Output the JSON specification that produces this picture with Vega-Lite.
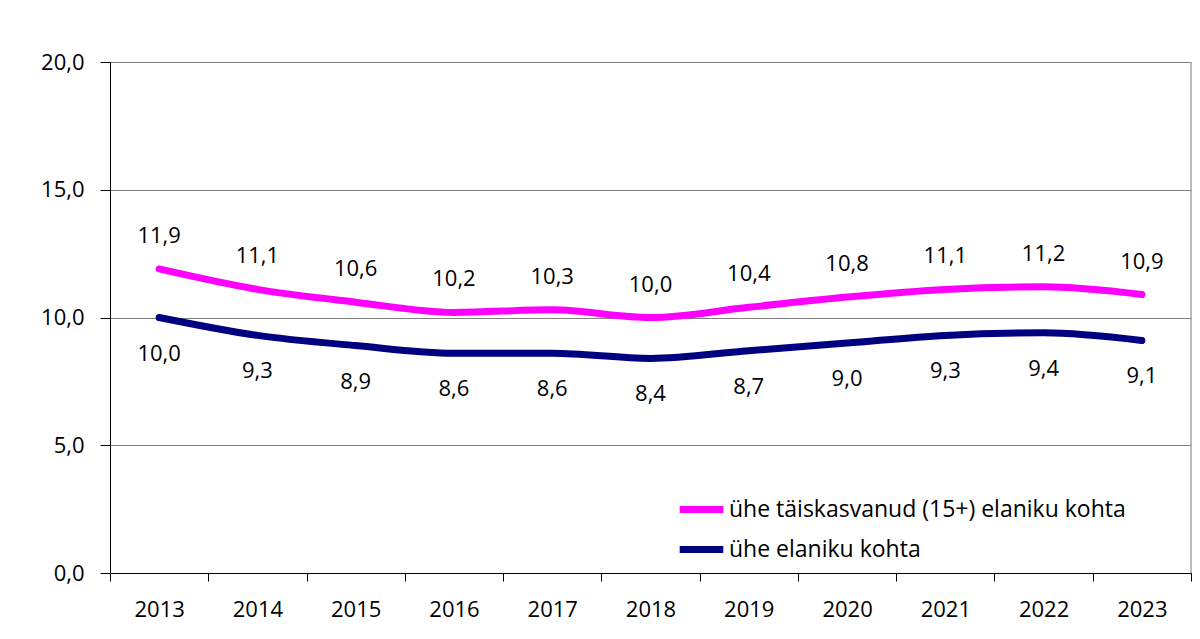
{
  "$schema": "https://vega.github.io/schema/vega-lite/v6.json",
  "width": 1081,
  "height": 511,
  "autosize": {"type": "none"},
  "padding": {"left": 110, "top": 62, "right": 9, "bottom": 66},
  "background": "white",
  "config": {
    "locale": {"number": {"decimal": ",", "thousands": " ", "grouping": [3], "currency": ["", " €"]}},
    "font": "Open Sans",
    "view": {"stroke": null}
  },
  "data": {
    "values": [
      {"year": "2013", "series": "ühe täiskasvanud (15+) elaniku kohta", "value": 11.9},
      {"year": "2014", "series": "ühe täiskasvanud (15+) elaniku kohta", "value": 11.1},
      {"year": "2015", "series": "ühe täiskasvanud (15+) elaniku kohta", "value": 10.6},
      {"year": "2016", "series": "ühe täiskasvanud (15+) elaniku kohta", "value": 10.2},
      {"year": "2017", "series": "ühe täiskasvanud (15+) elaniku kohta", "value": 10.3},
      {"year": "2018", "series": "ühe täiskasvanud (15+) elaniku kohta", "value": 10.0},
      {"year": "2019", "series": "ühe täiskasvanud (15+) elaniku kohta", "value": 10.4},
      {"year": "2020", "series": "ühe täiskasvanud (15+) elaniku kohta", "value": 10.8},
      {"year": "2021", "series": "ühe täiskasvanud (15+) elaniku kohta", "value": 11.1},
      {"year": "2022", "series": "ühe täiskasvanud (15+) elaniku kohta", "value": 11.2},
      {"year": "2023", "series": "ühe täiskasvanud (15+) elaniku kohta", "value": 10.9},
      {"year": "2013", "series": "ühe elaniku kohta", "value": 10.0},
      {"year": "2014", "series": "ühe elaniku kohta", "value": 9.3},
      {"year": "2015", "series": "ühe elaniku kohta", "value": 8.9},
      {"year": "2016", "series": "ühe elaniku kohta", "value": 8.6},
      {"year": "2017", "series": "ühe elaniku kohta", "value": 8.6},
      {"year": "2018", "series": "ühe elaniku kohta", "value": 8.4},
      {"year": "2019", "series": "ühe elaniku kohta", "value": 8.7},
      {"year": "2020", "series": "ühe elaniku kohta", "value": 9.0},
      {"year": "2021", "series": "ühe elaniku kohta", "value": 9.3},
      {"year": "2022", "series": "ühe elaniku kohta", "value": 9.4},
      {"year": "2023", "series": "ühe elaniku kohta", "value": 9.1}
    ]
  },
  "encoding": {
    "x": {
      "field": "year",
      "type": "ordinal",
      "bandPosition": 0.5,
      "scale": {"type": "band", "paddingInner": 0, "paddingOuter": 0},
      "axis": {
        "title": null,
        "labelAngle": 0,
        "labelFontSize": 22,
        "labelColor": "#000000",
        "labelPadding": 18,
        "domainColor": "#000000",
        "tickColor": "#000000",
        "tickSize": 8,
        "tickBand": "extent",
        "grid": false
      }
    },
    "y": {
      "field": "value",
      "type": "quantitative",
      "scale": {"domain": [0, 20]},
      "axis": {
        "title": null,
        "values": [0, 5, 10, 15, 20],
        "format": ".1f",
        "labelFontSize": 22,
        "labelColor": "#000000",
        "labelPadding": 16,
        "domainColor": "#000000",
        "tickColor": "#000000",
        "tickSize": 10,
        "grid": true,
        "gridColor": "#000000",
        "gridDash": [1, 1],
        "gridWidth": 1
      }
    }
  },
  "layer": [
    {
      "mark": {"type": "rule", "color": "#a6a6a6", "strokeWidth": 1.5},
      "data": {"values": [{"y1": 0, "y2": 20}]},
      "encoding": {
        "x": {"value": 1081},
        "y": {"field": "y1", "type": "quantitative"},
        "y2": {"field": "y2"}
      }
    },
    {
      "mark": {"type": "line", "interpolate": "monotone", "strokeWidth": 7, "strokeCap": "round"},
      "encoding": {
        "color": {
          "field": "series",
          "type": "nominal",
          "sort": ["ühe täiskasvanud (15+) elaniku kohta", "ühe elaniku kohta"],
          "scale": {"domain": ["ühe täiskasvanud (15+) elaniku kohta", "ühe elaniku kohta"], "range": ["#FF00FF", "#000080"]},
          "legend": {
            "title": null,
            "orient": "none",
            "legendX": 566,
            "legendY": 422,
            "symbolType": "stroke",
            "symbolSize": 1900,
            "symbolStrokeWidth": 7,
            "labelFontSize": 23,
            "labelColor": "#000000",
            "labelLimit": 0,
            "labelOffset": 2,
            "rowPadding": 0
          }
        }
      }
    },
    {
      "transform": [{"filter": "datum.series === 'ühe täiskasvanud (15+) elaniku kohta'"}],
      "mark": {"type": "text", "fontSize": 22, "color": "#000000", "dy": -33},
      "encoding": {"text": {"field": "value", "type": "quantitative", "format": ".1f"}}
    },
    {
      "transform": [{"filter": "datum.series === 'ühe elaniku kohta'"}],
      "mark": {"type": "text", "fontSize": 22, "color": "#000000", "dy": 36},
      "encoding": {"text": {"field": "value", "type": "quantitative", "format": ".1f"}}
    }
  ]
}
